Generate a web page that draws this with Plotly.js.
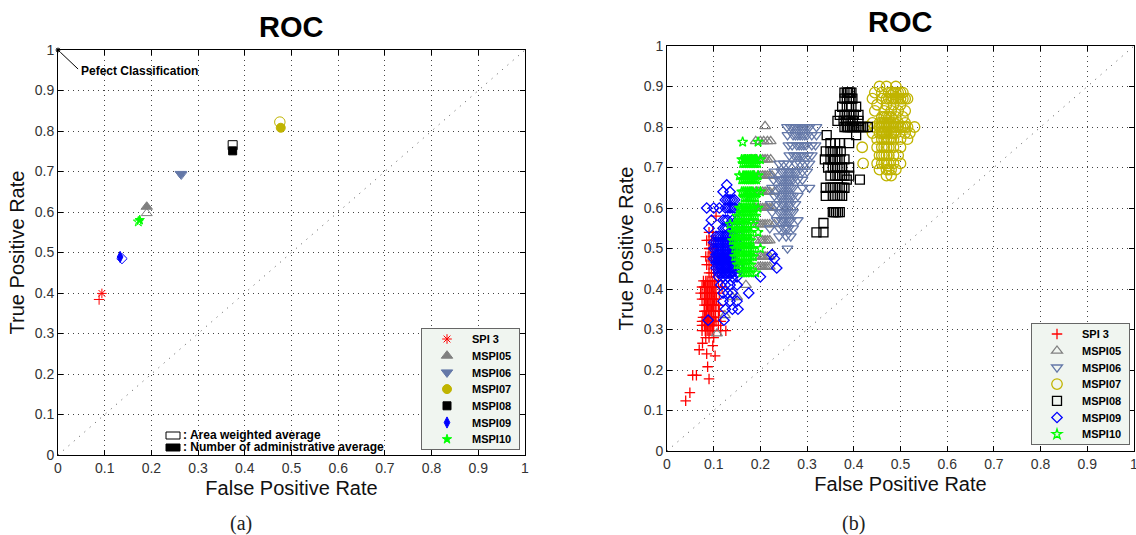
<!DOCTYPE html>
<html><head><meta charset="utf-8">
<script src="https://cdn.plot.ly/plotly-3.0.1.min.js"></script>
<style>html,body{margin:0;padding:0;background:#fff}#c{width:1136px;height:535px}</style></head>
<body><div id="c"></div>
<script>
const seriesNames=['SPI 3','MSPI05','MSPI06','MSPI07','MSPI08','MSPI09','MSPI10'];
const colors=['#ff0000','#808080','#6478a8','#c0b400','#000000','#0000ff','#00ff00'];
const axisTicks=[0,.1,.2,.3,.4,.5,.6,.7,.8,.9,1];
const tickLabels=['0','0.1','0.2','0.3','0.4','0.5','0.6','0.7','0.8','0.9','1'];
const diagonal=[0,1];
const perfectX=[0,.043], perfectY=[1,.953];

// Panel (a): [area weighted, number of administrative]
const aAreaX=[.088,.19,.264,.475,.374,.137,.172];
const aAreaY=[.384,.597,.692,.822,.765,.485,.576];
const aAdminX=[.094,.19,.263,.477,.374,.133,.175];
const aAdminY=[.399,.613,.694,.808,.751,.489,.58];

// Panel (b): rows of [TPR level, FPR readings]
const spi3Rows=[[.124,[.04]],[.144,[.049]],[.187,[.055,.063]],[.178,[.09]],[.208,[.087]],[.24,[.085]],[.235,[.103]],[.25,[.069]],[.266,[.076]],[.26,[.098]],
[.28,[.083,.09,.1]],[.297,[.075,.082,.086,.09,.094,.098,.126,.115]],[.31,[.075,.08,.084,.087,.09,.094,.097,.1,.11]],[.32,[.075,.08,.083,.087,.09,.094,.097,.101,.105,.115]],[.33,[.077,.082,.085,.089,.092,.096,.1,.104,.11]],[.345,[.08,.084,.088,.092,.095,.099,.103,.112]],[.36,[.08,.084,.087,.09,.094,.097,.1,.105,.11]],[.375,[.075,.08,.083,.087,.09,.094,.098,.102,.106]],[.39,[.072,.08,.084,.087,.091,.095,.099,.103,.112]],[.405,[.075,.08,.083,.087,.09,.094,.097,.101,.105,.118]],[.42,[.078,.083,.086,.09,.094,.098,.102,.11]],[.44,[.09,.095,.1,.108]],[.46,[.085,.09,.095,.1,.105]],[.48,[.083,.088,.092,.096,.1,.108]],[.5,[.09,.094,.098]],[.52,[.085,.09,.095,.1,.104]],[.54,[.09,.098]],[.58,[.105]]];
const m05Rows=[[.802,[.21]],[.765,[.19,.2,.207,.215,.222]],[.72,[.18,.19,.2,.205,.21,.215,.222]],[.68,[.185,.195,.2,.205,.21,.215,.22,.225]],[.64,[.18,.19,.195,.2,.205,.21,.215,.22,.23]],[.6,[.175,.185,.19,.195,.2,.205,.21,.215,.22,.225]],[.56,[.18,.19,.195,.2,.205,.21,.215,.22,.23]],[.52,[.19,.2,.205,.21,.215,.22]],[.48,[.19,.2,.205,.21,.215,.22]],[.455,[.195,.2,.205,.21,.215,.22]],[.41,[.169]],[.38,[.14,.15]],[.335,[.124]],[.29,[.107]]];
const m06Rows=[[.8,[.257,.265,.27,.275,.28,.285,.29,.295,.3,.305,.32]],[.78,[.258,.27,.275,.28,.285,.29,.295,.3,.31,.32]],[.755,[.26,.268,.278,.283,.288,.293,.298,.31,.318]],[.73,[.262,.272,.277,.282,.287,.292,.302,.31]],[.71,[.24,.25,.26,.275,.285,.295,.305]],[.69,[.23,.245,.25,.255,.26,.265,.27,.275,.28,.29,.3]],[.67,[.228,.24,.245,.25,.255,.26,.265,.27,.28,.29]],[.65,[.225,.24,.245,.25,.255,.26,.265,.27,.29,.305]],[.63,[.23,.24,.245,.25,.255,.26,.265,.27,.28]],[.61,[.222,.235,.245,.25,.255,.26,.265,.275]],[.59,[.225,.24,.245,.25,.255,.26,.265,.27]],[.57,[.235,.245,.25,.255,.26,.265,.28]],[.55,[.22,.24,.25,.255,.26,.27]],[.53,[.24,.255,.265]],[.5,[.258]]];
const m07Rows=[[.9,[.455,.47,.49]],[.885,[.445,.46,.475,.48,.485,.49,.495,.5,.505]],[.87,[.44,.46,.47,.475,.48,.485,.49,.495,.5,.505,.51,.515]],[.855,[.45,.47,.485,.5]],[.84,[.445,.465,.48,.495,.51]],[.825,[.46,.465,.47,.475,.48,.49,.505]],[.81,[.44,.455,.46,.465,.47,.475,.48,.485,.495,.51]],[.8,[.43,.445,.455,.46,.465,.47,.475,.48,.485,.49,.495,.5,.505,.51,.515,.53]],[.785,[.44,.455,.46,.465,.47,.48,.485,.49,.51,.52]],[.77,[.45,.46,.465,.47,.475,.48,.485,.5,.515]],[.75,[.418,.45,.46,.465,.47,.475,.485,.5]],[.73,[.455,.46,.465,.47,.475,.485,.495]],[.71,[.42,.45,.46,.465,.47,.475,.485,.5]],[.695,[.455,.47,.475,.48,.49]],[.68,[.47,.48]]];
const m08Rows=[[.885,[.38,.385,.388,.392,.395]],[.87,[.38,.385,.39,.393,.397]],[.85,[.375,.385,.39,.395,.405]],[.83,[.37,.38,.385,.39,.395,.4,.41]],[.815,[.365,.378,.383,.388,.393,.398,.41]],[.8,[.38,.385,.388,.392,.396,.4,.404,.408,.412,.416,.42,.43]],[.78,[.342,.405]],[.76,[.35,.36,.37,.39]],[.74,[.34,.35,.355,.36,.365,.372]],[.72,[.338,.35,.355,.36,.365,.37,.38]],[.7,[.345,.355,.36,.365,.37,.375,.39]],[.68,[.35,.36,.365,.37,.375,.38,.39]],[.67,[.413,.385]],[.65,[.34,.35,.355,.36,.365,.37,.375,.38]],[.63,[.34,.355,.36,.365,.37,.375]],[.59,[.355,.358,.362,.366,.37]],[.563,[.335]],[.54,[.32,.335]]];
const m09Rows=[[.657,[.128]],[.64,[.12,.135]],[.62,[.125,.13,.135,.14,.145]],[.6,[.085,.1,.112,.125,.13,.135,.14,.145,.155]],[.57,[.095,.12,.125,.13,.14,.15]],[.55,[.09,.12,.125,.13,.145,.155]],
[.53,[.105,.11,.115,.12,.125,.13,.135,.14,.145,.155]],[.515,[.1,.105,.11,.115,.12,.125,.13,.135,.14,.15]],[.5,[.1,.105,.11,.115,.12,.125,.13,.135,.14,.145,.15]],[.485,[.105,.11,.115,.12,.125,.13,.135,.14,.145,.225]],[.475,[.1,.105,.11,.115,.12,.125,.13,.135,.14,.23]],[.465,[.105,.11,.115,.12,.125,.13,.135,.14,.145,.15]],[.452,[.105,.11,.115,.12,.125,.13,.135,.14,.145,.155,.235]],[.44,[.11,.115,.12,.125,.13,.135,.14,.15]],[.43,[.11,.12,.13,.14,.15,.2]],[.41,[.115,.125,.135,.15]],[.39,[.12,.13,.14,.175]],[.37,[.12,.135,.15]],[.35,[.125,.14,.152]],[.323,[.088,.122]]];
const m10Rows=[[.763,[.162,.195]],[.72,[.16,.165,.168,.172,.176,.18,.184,.188,.192,.2]],[.71,[.162,.166,.17,.174,.178,.182,.186,.19,.194]],[.68,[.155,.163,.167,.171,.175,.179,.183,.187,.195]],[.67,[.16,.164,.168,.172,.176,.18,.184,.188,.192]],[.64,[.16,.164,.168,.172,.176,.18,.184,.192,.2]],[.625,[.165,.169,.173,.177,.181,.185,.19]],[.6,[.155,.159,.163,.167,.171,.175,.179,.183,.187,.195]],[.58,[.15,.155,.16,.165,.17,.175,.18,.185,.19]],[.56,[.135,.145,.15,.155,.16,.165,.17,.175,.185]],[.54,[.14,.145,.15,.155,.16,.165,.17,.175,.18,.195]],[.52,[.14,.145,.15,.155,.16,.165,.17,.175,.18]],[.5,[.145,.15,.155,.16,.165,.17,.175,.18,.185,.2]],[.48,[.145,.15,.155,.16,.165,.17,.175,.18,.185]],[.46,[.15,.155,.16,.165,.17,.175,.18]],[.44,[.16,.165,.17,.175,.18,.19]]];
const bRows=[spi3Rows,m05Rows,m06Rows,m07Rows,m08Rows,m09Rows,m10Rows];

const openSym=['cross-thin-open','triangle-up-open','triangle-down-open','circle-open','square-open','diamond-open','star-open'];
const fillSym=['asterisk-open','triangle-up','triangle-down','circle','square','diamond-tall','star'];
const fillSize=[8,10,10,9,8,8,7], openSize=[7.5,9.5,9.5,10.5,9,8,7.5];
const traces=[];
const dotLine={color:'#555',width:1,dash:'1px,6px'};
traces.push({x:diagonal,y:diagonal,xaxis:'x',yaxis:'y',mode:'lines',line:dotLine,showlegend:false,hoverinfo:'skip'});
traces.push({x:diagonal,y:diagonal,xaxis:'x2',yaxis:'y2',mode:'lines',line:dotLine,showlegend:false,hoverinfo:'skip'});
seriesNames.forEach((n,i)=>{
  traces.push({x:[aAreaX[i]],y:[aAreaY[i]],xaxis:'x',yaxis:'y',mode:'markers',name:n,showlegend:false,
    marker:{symbol:openSym[i],size:openSize[i],color:colors[i],line:{color:colors[i],width:1}}});
});
seriesNames.forEach((n,i)=>{
  traces.push({x:[aAdminX[i]],y:[aAdminY[i]],xaxis:'x',yaxis:'y',mode:'markers',name:n,legend:'legend',
    marker:{symbol:fillSym[i],size:fillSize[i],color:colors[i],line:{color:colors[i],width:1}}});
});
bRows.forEach((rows,i)=>{
  const xs=[],ys=[];
  rows.forEach(r=>r[1].forEach(v=>{xs.push(v);ys.push(r[0]);}));
  traces.push({x:xs,y:ys,xaxis:'x2',yaxis:'y2',mode:'markers',name:seriesNames[i],legend:'legend2',
    marker:{symbol:openSym[i],size:openSize[i],color:colors[i],line:{color:colors[i],width:1.3}}});
});
traces.push({x:perfectX,y:perfectY,xaxis:'x',yaxis:'y',mode:'lines+markers',showlegend:false,cliponaxis:false,
  line:{color:'#000',width:1},marker:{color:'#000',size:[6,0]}});

const W=1136,H=535;
const dx=(a,b)=>[a/W,b/W], dy=(top,bot)=>[1-bot/H,1-top/H];
const ax=(dom,anchor,title,standoff)=>({domain:dom,anchor,range:[0,1],tickvals:axisTicks,ticktext:tickLabels,ticks:'inside',ticklen:5,tickcolor:'#000',ticklabeloverflow:'allow',
  showline:true,linecolor:'#000',linewidth:1,mirror:'ticks',zeroline:false,showgrid:true,gridcolor:'#444',griddash:'1px,4px',gridwidth:1,
  tickfont:{family:'Liberation Sans',size:14,color:'#333'},title:{text:title,standoff,font:{family:'Liberation Sans',size:20,color:'#111'}}});
const lgFont={family:'Liberation Sans',size:11,color:'#000',weight:700};
const lg=(x,y)=>({x,y,xanchor:'left',yanchor:'top',xref:'paper',yref:'paper',bgcolor:'#f0f5f0',bordercolor:'#666',borderwidth:1,font:lgFont,traceorder:'normal',itemwidth:40});
const note={family:'Liberation Sans',size:12,color:'#000',weight:700};
const serif={family:'Liberation Serif',size:20,color:'#222'};
const txt=(x,y,text,font,xanchor)=>({xref:'paper',yref:'paper',x:x/W,y:1-y/H,text,showarrow:false,font,xanchor:xanchor||'center',yanchor:'middle'});
const titleFont={family:'Liberation Sans',size:29,color:'#000',weight:700};
const layout={width:W,height:H,margin:{l:0,r:0,t:0,b:0},paper_bgcolor:'#fff',plot_bgcolor:'#fff',showlegend:true,
  xaxis:ax(dx(58,525),'y','False Positive Rate',6),yaxis:ax(dy(50,455),'x','True Positive Rate',4),
  xaxis2:ax(dx(667,1134),'y2','False Positive Rate',6),yaxis2:ax(dy(46,451),'x2','True Positive Rate',4),
  legend:lg(421/W,1-328/H),legend2:lg(1031/W,1-323/H),
  shapes:[
   {type:'rect',xref:'paper',yref:'paper',x0:166/W,x1:180/W,y0:1-432/H,y1:1-439/H,line:{color:'#000',width:1},fillcolor:'#fff'},
   {type:'rect',xref:'paper',yref:'paper',x0:166/W,x1:180/W,y0:1-444/H,y1:1-451/H,line:{color:'#000',width:1},fillcolor:'#000'}
  ],
  annotations:[
   txt(291,27,'ROC',titleFont),txt(900,22,'ROC',titleFont),
   txt(241,523,'(a)',serif),txt(853,523,'(b)',serif),
   txt(79,71,'Pefect Classification',note,'left'),
   txt(181,435,': Area weighted average',note,'left'),
   txt(181,447,': Number of administrative average',note,'left')
  ]};
Plotly.newPlot('c',traces,layout,{staticPlot:true,displayModeBar:false}).then(()=>{
  // Tighten the legends to the reference's 121px box and 16.7px row pitch.
  ['legend','legend2'].forEach(id=>{
    const g=document.querySelector('g.'+id); if(!g) return;
    const bg=g.querySelector('rect.bg'); bg.setAttribute('height',121); bg.setAttribute('width',98);
    g.querySelectorAll('clipPath rect, defs rect').forEach(r=>{r.setAttribute('height',121);r.setAttribute('width',98);});
    g.querySelectorAll('g.traces').forEach((t,k)=>{
      const m=/translate\(([-\d.]+),\s*([-\d.]+)\)/.exec(t.getAttribute('transform')||'');
      t.setAttribute('transform','translate('+(m?m[1]:0)+','+(11+k*16.7)+')');
    });
  });
});
</script></body></html>
